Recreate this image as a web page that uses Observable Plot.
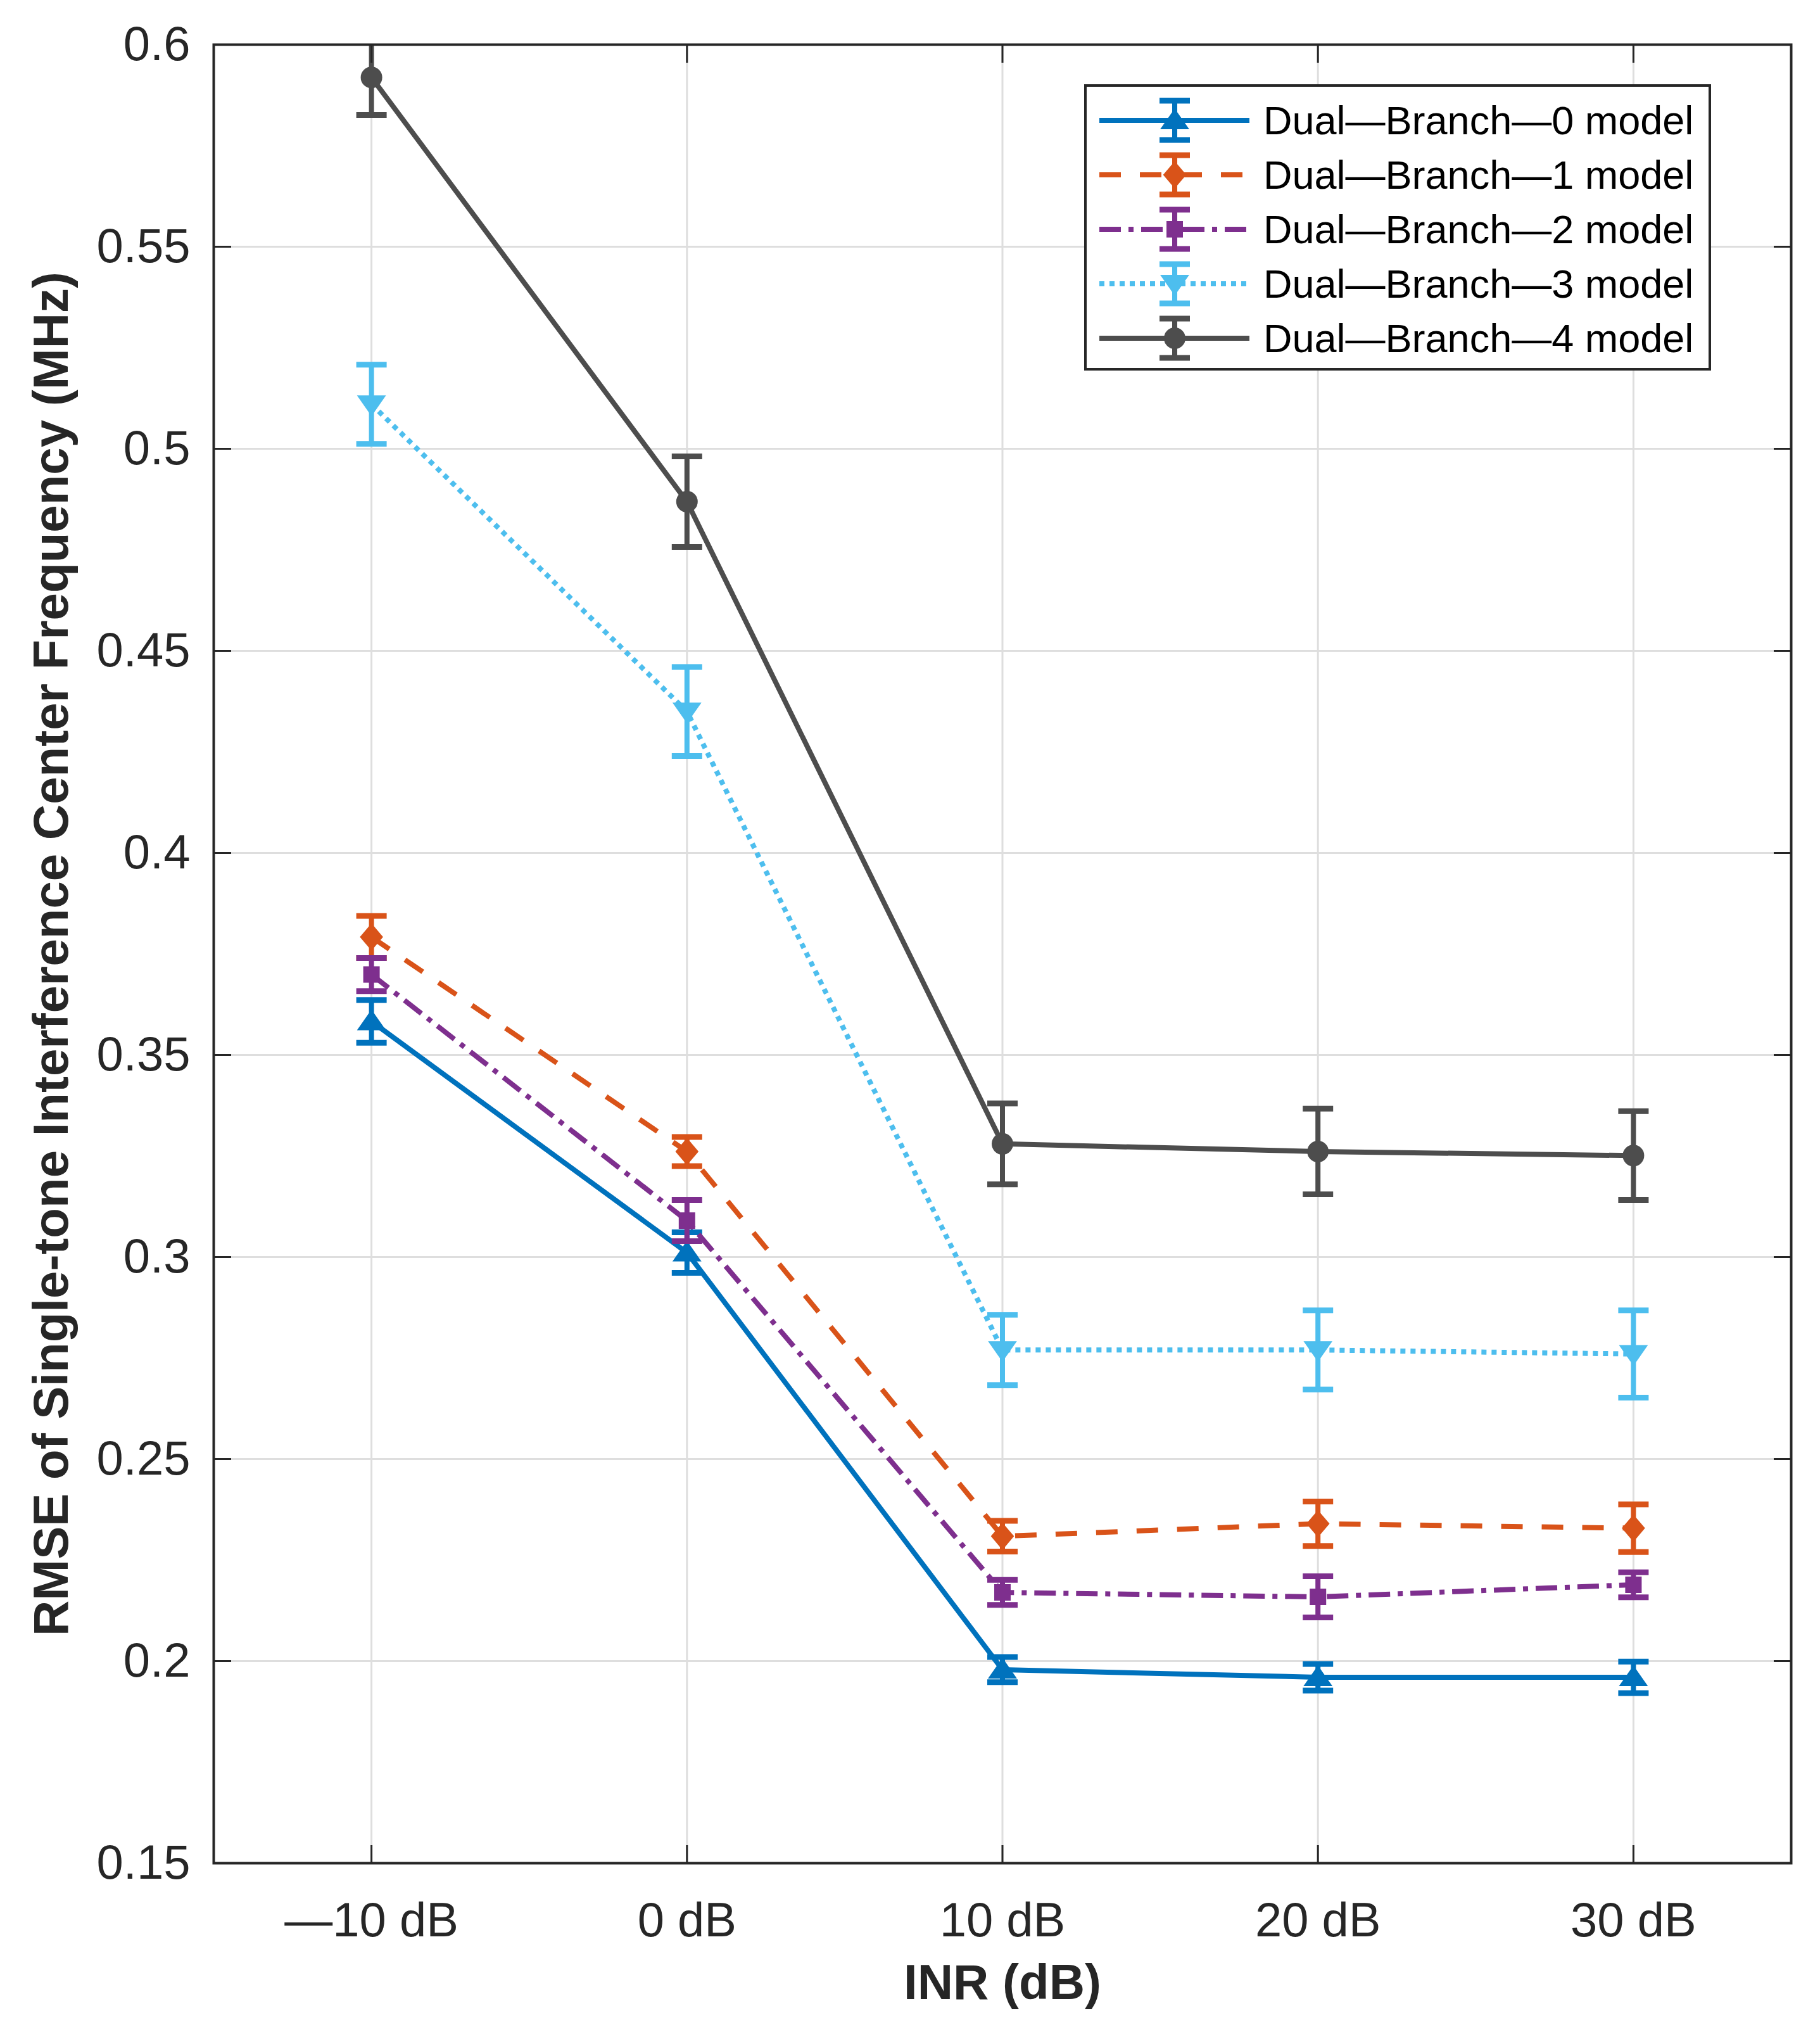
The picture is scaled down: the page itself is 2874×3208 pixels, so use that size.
<!DOCTYPE html>
<html>
<head>
<meta charset="utf-8">
<script src="https://cdn.jsdelivr.net/npm/d3@7"></script>
<script src="https://cdn.jsdelivr.net/npm/@observablehq/plot@0.6"></script>
<style>
  html, body { margin: 0; padding: 0; background: #fff; }
  #wrap { position: relative; width: 2874px; height: 3208px; }
  #legend { position: absolute; left: 1712px; top: 133px; }
</style>
</head>
<body>
<div id="wrap"></div>
<script>
// ---------------- data ----------------
const inr = [-10, 0, 10, 20, 30];
const inrLabels = ["\u201410 dB", "0 dB", "10 dB", "20 dB", "30 dB"];
const yTicks = [0.15, 0.2, 0.25, 0.3, 0.35, 0.4, 0.45, 0.5, 0.55, 0.6];
const modelNames = [
  "Dual\u2014Branch\u20140 model",
  "Dual\u2014Branch\u20141 model",
  "Dual\u2014Branch\u20142 model",
  "Dual\u2014Branch\u20143 model",
  "Dual\u2014Branch\u20144 model"
];
const xLabel = "INR (dB)";
const yLabel = "RMSE of Single-tone Interference Center Frequency (MHz)";

const rmse0 = [0.3583, 0.3011, 0.1979, 0.1960, 0.1960];
const err0  = [0.0053, 0.0050, 0.0031, 0.0033, 0.0039];
const rmse1 = [0.3792, 0.3261, 0.2309, 0.2340, 0.2329];
const err1  = [0.0052, 0.0036, 0.0038, 0.0055, 0.0059];
const rmse2 = [0.3699, 0.3090, 0.2170, 0.2159, 0.2189];
const err2  = [0.0041, 0.0051, 0.0031, 0.0051, 0.0031];
const rmse3 = [0.5110, 0.4350, 0.2770, 0.2770, 0.2760];
const err3  = [0.0098, 0.0110, 0.0087, 0.0098, 0.0108];
const rmse4 = [0.5919, 0.4869, 0.3280, 0.3261, 0.3251];
const err4  = [0.0093, 0.0112, 0.0100, 0.0106, 0.0110];

// ---------------- styles ----------------
const colors = ["#0072BD", "#D95319", "#7E2F8E", "#4DBEEE", "#4D4D4D"];
const dashes = [null, "34,30", "34,12,8,12", "8,8", null];
const FONT = "'Liberation Sans', Arial, Helvetica, sans-serif";
const INK = "#262626";

function poly(pts) {
  return { draw(ctx) {
    ctx.moveTo(pts[0][0], pts[0][1]);
    for (const p of pts.slice(1)) ctx.lineTo(p[0], p[1]);
    ctx.closePath();
  }};
}
const triUp = poly([[0, -17], [21, 13], [-21, 13]]);
const triDown = poly([[0, 17], [21, -13], [-21, -13]]);
const diamond = poly([[0, -20], [17, 0], [0, 20], [-17, 0]]);
const square = poly([[-12, -12], [12, -12], [12, 12], [-12, 12]]);
const circle = { draw(ctx) { ctx.moveTo(16, 0); ctx.arc(0, 0, 16, 0, 2 * Math.PI); } };
const cap = { draw(ctx) { ctx.moveTo(-24, 0); ctx.lineTo(24, 0); } };
const symbols = [triUp, diamond, square, triDown, circle];

const rmseAll = [rmse0, rmse1, rmse2, rmse3, rmse4];
const errAll = [err0, err1, err2, err3, err4];
const series = modelNames.map((name, i) => ({
  name, color: colors[i], dash: dashes[i], symbol: symbols[i],
  points: inr.map((x, j) => ({ x, y: rmseAll[i][j], e: errAll[i][j] }))
}));

const LW = 8;
const seriesMarks = series.flatMap(s => [
  Plot.line(s.points, { x: "x", y: "y", stroke: s.color, strokeWidth: LW,
    strokeDasharray: s.dash ?? undefined, strokeLinecap: "butt", strokeLinejoin: "miter", clip: "frame" }),
  Plot.ruleX(s.points, { x: "x", y1: d => d.y - d.e, y2: d => d.y + d.e,
    stroke: s.color, strokeWidth: LW, clip: "frame" }),
  Plot.dot(s.points, { x: "x", y: d => d.y + d.e, symbol: cap, r: 1, fill: "none",
    stroke: s.color, strokeWidth: 9, clip: "frame" }),
  Plot.dot(s.points, { x: "x", y: d => d.y - d.e, symbol: cap, r: 1, fill: "none",
    stroke: s.color, strokeWidth: 9, clip: "frame" }),
  Plot.dot(s.points, { x: "x", y: "y", symbol: s.symbol, r: 1, fill: s.color,
    stroke: s.color, strokeWidth: 2, clip: "frame" })
]);

const tickOpts = { tickSize: -28, stroke: INK, strokeWidth: 3, fill: "none", label: null };
const chart = Plot.plot({
  width: 2874,
  height: 3208,
  marginLeft: 337,
  marginRight: 46,
  marginTop: 70,
  marginBottom: 267,
  style: { fontFamily: FONT, background: "#fff", color: INK, overflow: "visible" },
  x: { domain: [-15, 35] },
  y: { domain: [0.15, 0.6] },
  marks: [
    Plot.gridX(inr, { stroke: "#dedede", strokeOpacity: 1, strokeWidth: 3 }),
    Plot.gridY(yTicks, { stroke: "#dedede", strokeOpacity: 1, strokeWidth: 3 }),
    ...seriesMarks,
    Plot.frame({ stroke: INK, strokeWidth: 4 }),
    Plot.axisX(inr, { anchor: "bottom", ...tickOpts }),
    Plot.axisX(inr, { anchor: "top", ...tickOpts }),
    Plot.axisY(yTicks, { anchor: "left", ...tickOpts }),
    Plot.axisY(yTicks, { anchor: "right", ...tickOpts }),
    Plot.axisX(inr, { anchor: "bottom", tickSize: 0, stroke: "none", tickPadding: 62, fontSize: 76, fill: INK,
      label: null, tickFormat: d => inrLabels[inr.indexOf(d)] }),
    Plot.axisY(yTicks, { anchor: "left", tickSize: 0, stroke: "none", tickPadding: 37, fontSize: 76, fill: INK,
      label: null, tickFormat: d => String(+d.toFixed(2)) }),
    Plot.text([xLabel], { frameAnchor: "bottom", dy: 214, fontSize: 78, fontWeight: "bold", fill: INK }),
    Plot.text([yLabel], { frameAnchor: "left", textAnchor: "middle", rotate: -90, dx: -255,
      fontSize: 78, fontWeight: "bold", fill: INK })
  ]
});
document.getElementById("wrap").appendChild(chart);

// ---------------- legend ----------------
const LW_ = 990, LH_ = 452;
const lg = d3.select("#wrap").append("svg")
  .attr("id", "legend").attr("width", LW_).attr("height", LH_)
  .style("font-family", FONT);
lg.append("rect").attr("x", 2).attr("y", 2).attr("width", LW_ - 4).attr("height", LH_ - 4)
  .attr("fill", "#fff").attr("stroke", INK).attr("stroke-width", 4);
series.forEach((s, i) => {
  const cy = 57 + i * 86;
  const g = lg.append("g");
  g.append("line").attr("x1", 24).attr("x2", 261).attr("y1", cy).attr("y2", cy)
    .attr("stroke", s.color).attr("stroke-width", LW)
    .attr("stroke-dasharray", s.dash);
  g.append("line").attr("x1", 143).attr("x2", 143).attr("y1", cy - 31).attr("y2", cy + 31)
    .attr("stroke", s.color).attr("stroke-width", LW);
  [cy - 31, cy + 31].forEach(yy => {
    const p = d3.path(); cap.draw(p);
    g.append("path").attr("d", p.toString()).attr("transform", `translate(143,${yy})`)
      .attr("stroke", s.color).attr("stroke-width", 9).attr("fill", "none");
  });
  const p = d3.path(); s.symbol.draw(p);
  g.append("path").attr("d", p.toString()).attr("transform", `translate(143,${cy})`)
    .attr("fill", s.color).attr("stroke", s.color).attr("stroke-width", 2);
  g.append("text").attr("x", 283).attr("y", cy).attr("dy", "0.35em")
    .attr("font-size", 63).attr("fill", "#000").text(s.name);
});
</script>
</body>
</html>
